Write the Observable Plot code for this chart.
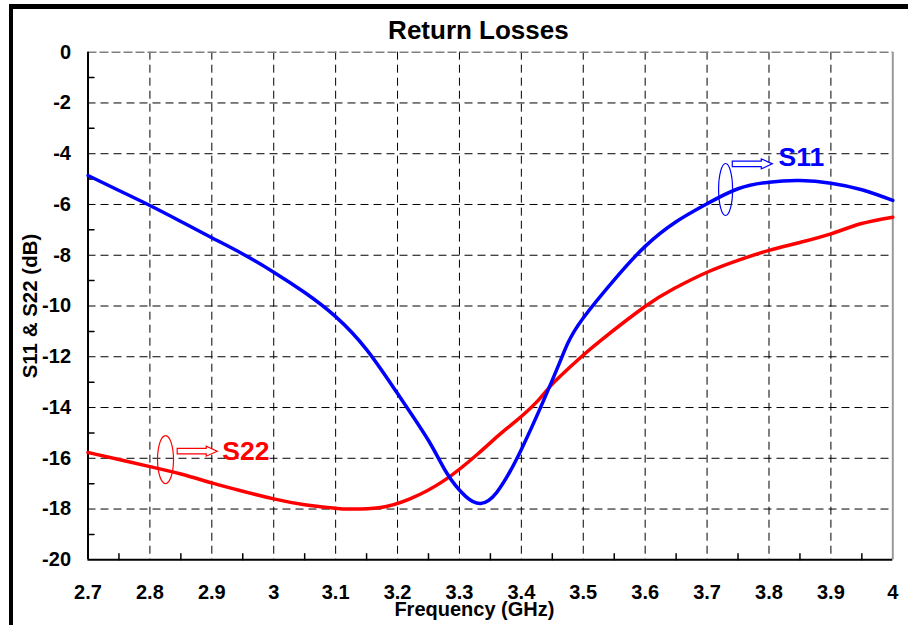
<!DOCTYPE html>
<html>
<head>
<meta charset="utf-8">
<script src="https://cdn.jsdelivr.net/npm/d3@7"></script>
<script src="https://cdn.jsdelivr.net/npm/@observablehq/plot@0.6"></script>
<style>
  body { margin: 0; background: #fff; }
  #chart { position: relative; width: 908px; height: 625px; overflow: hidden; }
  #chart .outline {
    position: absolute; left: 8.5px; top: 3.5px; right: -20px; bottom: -20px;
    border-left: 4px solid #000; border-top: 5px solid #000; pointer-events: none;
  }
  #chart svg { display: block; }
</style>
</head>
<body>
<div id="chart"><div class="outline"></div></div>
<script>
// Measured return losses (dB) versus frequency (GHz)
const freqS11 = [2.70, 2.75, 2.80, 2.85, 2.90, 2.95, 3.00, 3.05, 3.10, 3.15, 3.20, 3.25, 3.28, 3.31, 3.334, 3.36, 3.40, 3.45, 3.475, 3.50, 3.55, 3.60, 3.65, 3.70, 3.75, 3.80, 3.85, 3.90, 3.95, 4.00];
const s11 = [-4.86, -5.45, -6.04, -6.67, -7.31, -7.95, -8.67, -9.47, -10.42, -11.72, -13.45, -15.30, -16.60, -17.50, -17.78, -17.35, -15.65, -12.92, -11.47, -10.47, -8.97, -7.65, -6.68, -5.97, -5.38, -5.12, -5.06, -5.16, -5.42, -5.84];

const freqS22 = [2.70, 2.75, 2.80, 2.85, 2.90, 2.95, 3.00, 3.05, 3.10, 3.12, 3.17, 3.22, 3.275, 3.33, 3.366, 3.393, 3.426, 3.453, 3.496, 3.528, 3.598, 3.646, 3.70, 3.75, 3.80, 3.851, 3.90, 3.948, 4.00];
const s22 = [-15.77, -16.05, -16.33, -16.62, -16.97, -17.30, -17.60, -17.83, -17.97, -18.00, -17.95, -17.60, -16.88, -15.82, -15.04, -14.50, -13.75, -13.00, -12.02, -11.36, -10.05, -9.32, -8.67, -8.20, -7.81, -7.49, -7.16, -6.76, -6.50];

// Axis ticks
const xTicks = [2.7, 2.8, 2.9, 3, 3.1, 3.2, 3.3, 3.4, 3.5, 3.6, 3.7, 3.8, 3.9, 4];
const xMinorTicks = [2.75, 2.85, 2.95, 3.05, 3.15, 3.25, 3.35, 3.45, 3.55, 3.65, 3.75, 3.85, 3.95];
const yTicks = [0, -2, -4, -6, -8, -10, -12, -14, -16, -18, -20];
const yMinorTicks = [-1, -3, -5, -7, -9, -11, -13, -15, -17, -19];

// Series call-outs: ellipse round the curve, arrow, then the name
const seriesNames = ["S11", "S22"];
const seriesColors = ["#0000ff", "#ff0000"];
const calloutRing = [{f: 3.7299, db: -5.41}, {f: 2.8252, db: -16.05}];
const calloutArrow = [{f: 3.7730, db: -4.40}, {f: 2.8764, db: -15.72}];
const calloutText = [{f: 3.8155, db: -4.13}, {f: 2.9168, db: -15.73}];

const s11Data = freqS11.map((f, i) => ({f, db: s11[i]}));
const s22Data = freqS22.map((f, i) => ({f, db: s22[i]}));

// Custom symbols drawn through Plot.dot
const ellipse = (rx, ry) => ({
  draw(ctx) {
    const k = 0.5523;
    ctx.moveTo(rx, 0);
    ctx.bezierCurveTo(rx, ry * k, rx * k, ry, 0, ry);
    ctx.bezierCurveTo(-rx * k, ry, -rx, ry * k, -rx, 0);
    ctx.bezierCurveTo(-rx, -ry * k, -rx * k, -ry, 0, -ry);
    ctx.bezierCurveTo(rx * k, -ry, rx, -ry * k, rx, 0);
    ctx.closePath();
  }
});
const blockArrow = {
  draw(ctx) {
    ctx.moveTo(-20, -2.8);
    ctx.lineTo(9, -2.8);
    ctx.lineTo(9, -5);
    ctx.lineTo(20, 0);
    ctx.lineTo(9, 5);
    ctx.lineTo(9, 2.8);
    ctx.lineTo(-20, 2.8);
    ctx.closePath();
  }
};
const tickShape = { draw(ctx, l) { ctx.moveTo(0, 0); ctx.lineTo(0, -l); } };

const font = "Arial, 'Liberation Sans', sans-serif";
const dash = "8,5";

const chart = Plot.plot({
  width: 908,
  height: 625,
  marginLeft: 87.5,
  marginRight: 15.7,
  marginTop: 51.7,
  marginBottom: 65.7,
  style: {fontFamily: font, background: "transparent", overflow: "visible"},
  x: {domain: [2.7, 4]},
  y: {domain: [-20, 0]},
  marks: [
    // grid
    Plot.ruleX(xTicks.slice(1, -1), {stroke: "#000", strokeWidth: 1, strokeDasharray: dash}),
    Plot.ruleY(yTicks.slice(1, -1), {stroke: "#000", strokeWidth: 1, strokeDasharray: dash}),
    // plot-area border
    Plot.ruleY([0], {stroke: "#808080", strokeWidth: 1.5, strokeDasharray: "9,3"}),
    Plot.ruleX([4], {stroke: "#999", strokeWidth: 2}),
    Plot.ruleX([2.7], {stroke: "#000", strokeWidth: 2}),
    Plot.ruleY([-20], {stroke: "#000", strokeWidth: 2}),
    // minor ticks pointing inward
    Plot.vector(yMinorTicks, {x: () => 2.7, y: d => d, length: 6, rotate: 90, anchor: "start", shape: tickShape, stroke: "#000", strokeWidth: 1.5}),
    Plot.vector(xMinorTicks, {x: d => d, y: () => -20, length: 6, rotate: 0, anchor: "start", shape: tickShape, stroke: "#000", strokeWidth: 1.5}),
    // axes
    Plot.axisX(xTicks, {tickSize: 0, tickPadding: 25, fontSize: 20, fontWeight: "bold", tickFormat: d => String(d), label: null}),
    Plot.axisY(yTicks, {tickSize: 0, tickPadding: 17, fontSize: 20, fontWeight: "bold", tickFormat: d => String(d), label: null}),
    // curves
    Plot.line(s22Data, {x: "f", y: "db", stroke: seriesColors[1], strokeWidth: 3.5, curve: "natural"}),
    Plot.line(s11Data, {x: "f", y: "db", stroke: seriesColors[0], strokeWidth: 3.5, curve: "natural"}),
    // call-outs
    Plot.dot([calloutRing[0]], {x: "f", y: "db", symbol: ellipse(7, 26), r: 5, stroke: seriesColors[0], strokeWidth: 1.2, fill: "none"}),
    Plot.dot([calloutRing[1]], {x: "f", y: "db", symbol: ellipse(8, 24), r: 5, stroke: seriesColors[1], strokeWidth: 1.2, fill: "none"}),
    Plot.dot(calloutArrow, {x: "f", y: "db", symbol: blockArrow, r: 5, stroke: (d, i) => seriesColors[i], strokeWidth: 1.2, fill: "#fff"}),
    Plot.text(calloutText, {x: "f", y: "db", text: (d, i) => seriesNames[i], fill: (d, i) => seriesColors[i], fontSize: 26.5, fontWeight: "bold", textAnchor: "start"}),
    // titles
    Plot.text(["Return Losses"], {frameAnchor: "top", lineAnchor: "middle", dy: -22, dx: -12, fontSize: 26, fontWeight: "bold", fill: "#000"}),
    Plot.text(["Frequency (GHz)"], {frameAnchor: "bottom", lineAnchor: "middle", dy: 50, dx: -16, fontSize: 20, fontWeight: "bold", fill: "#000"}),
    Plot.text(["S11 & S22 (dB)"], {frameAnchor: "left", textAnchor: "middle", lineAnchor: "middle", dx: -58, rotate: -90, fontSize: 20.5, fontWeight: "bold", fill: "#000"})
  ]
});

document.getElementById("chart").prepend(chart);
</script>
</body>
</html>
